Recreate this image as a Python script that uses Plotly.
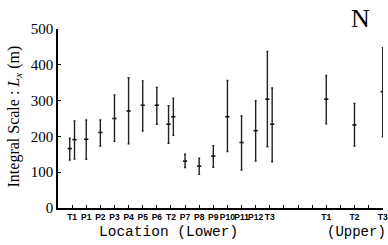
import plotly.graph_objects as go

# ---- data ----
lower_sites = ["T1", "P1", "P2", "P3", "P4", "P5", "P6", "T2",
               "P7", "P8", "P9", "P10", "P11", "P12", "T3"]
lower_mean = [166, 192, 211, 250, 271, 287, 287, 234, 131, 117, 145, 255, 183, 216, 304]
lower_hi = [195, 246, 246, 316, 364, 355, 337, 286, 150, 139, 174, 356, 257, 300, 437]
lower_lo = [134, 136, 173, 186, 179, 215, 234, 181, 113, 94, 114, 158, 106, 131, 171]

# second measurement at the lower tower sites
pair_sites = ["T1", "T2", "T3"]
pair_mean = [191, 255, 234]
pair_hi = [243, 307, 335]
pair_lo = [137, 203, 129]

upper_sites = ["T1", "T2", "T3"]
upper_mean = [304, 232, 325]
upper_hi = [370, 292, 448]
upper_lo = [235, 173, 199]

y_ticks = [0, 100, 200, 300, 400, 500]

# ---- positions along the axis ----
n_low = len(lower_sites)
upper_start = n_low + 3
lower_x = list(range(n_low))
upper_x = [upper_start + 2 * i for i in range(len(upper_sites))]
last = upper_x[-1]
slot_labels = [""] * (last + 1)
for i, s in enumerate(lower_sites):
    slot_labels[lower_x[i]] = s
for i, s in enumerate(upper_sites):
    slot_labels[upper_x[i]] = s

off = 0.17
lx = [x - off if lower_sites[i] in pair_sites else x for i, x in enumerate(lower_x)]
px = [lower_sites.index(s) + off for s in pair_sites]

fig = go.Figure()

def add_series(xs, mean, hi, lo):
    fig.add_trace(go.Scatter(
        x=xs, y=mean, mode="markers",
        marker=dict(symbol="line-ew", size=3, color="#111",
                    line=dict(width=1.6, color="#111")),
        error_y=dict(type="data", symmetric=False,
                     array=[h - m for h, m in zip(hi, mean)],
                     arrayminus=[m - l for m, l in zip(mean, lo)],
                     color="#222", thickness=1.4, width=1),
        showlegend=False, hoverinfo="skip"))

add_series(lx, lower_mean, lower_hi, lower_lo)
add_series(px, pair_mean, pair_hi, pair_lo)
add_series(upper_x, upper_mean, upper_hi, upper_lo)

fig.update_layout(
    width=388, height=245,
    margin=dict(l=58, r=5, t=29, b=37, autoexpand=False),
    paper_bgcolor="white", plot_bgcolor="white",
    xaxis=dict(range=[-1, last + 0.02], tickmode="array",
               tickvals=list(range(last + 1)), ticktext=slot_labels,
               ticks="inside", ticklen=3, tickwidth=1, tickcolor="black",
               showline=True, linecolor="black", linewidth=1.5,
               showgrid=False, zeroline=False, tickangle=0, automargin=False,
               tickfont=dict(family="Liberation Sans", size=8.5, color="black", weight="bold")),
    yaxis=dict(range=[0, 500], tickvals=y_ticks, automargin=False,
               ticks="inside", ticklen=3, tickwidth=1, tickcolor="black",
               showline=True, linecolor="black", linewidth=1.5,
               showgrid=False, zeroline=False,
               tickfont=dict(family="Liberation Serif", size=15, color="black")),
)

fig.add_annotation(text="Integral Scale : <i>L<sub>x</sub></i> (m)",
                   xref="paper", yref="paper", x=-0.133, y=0.51,
                   xanchor="center", yanchor="middle",
                   textangle=-90, showarrow=False,
                   font=dict(family="Liberation Serif", size=16, color="black"))
fig.add_annotation(text="Location (Lower)", xref="paper", yref="paper",
                   x=0.12, y=-0.135, xanchor="left", yanchor="middle", showarrow=False,
                   font=dict(family="Liberation Mono", size=14.5, color="black"))
fig.add_annotation(text="(Upper)", xref="paper", yref="paper",
                   x=0.822, y=-0.135, xanchor="left", yanchor="middle", showarrow=False,
                   font=dict(family="Liberation Mono", size=14, color="black"))
fig.add_annotation(text="N", xref="paper", yref="paper",
                   x=0.93, y=1.06, xanchor="center", yanchor="middle", showarrow=False,
                   font=dict(family="Liberation Serif", size=26, color="black"))

fig.write_html("out.html", config={"displayModeBar": False},
               post_script="document.body.style.margin='0';document.body.style.overflow='hidden';")
